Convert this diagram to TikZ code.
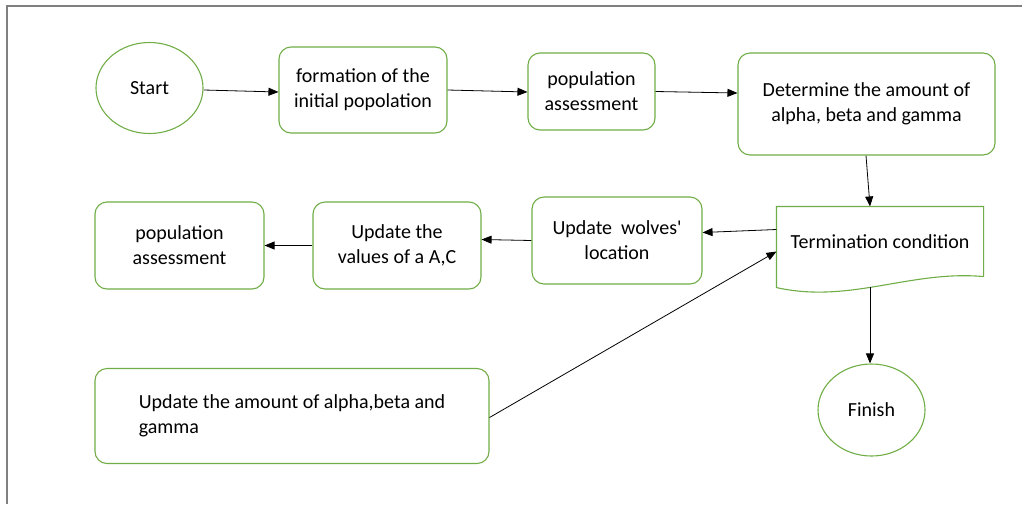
\documentclass[tikz,border=0pt]{standalone}
\usepackage{fontspec}
\setmainfont{Carlito}
\usetikzlibrary{shapes.geometric,arrows.meta}
\definecolor{boxgreen}{RGB}{112,173,71}
\definecolor{framegray}{RGB}{128,128,128}

\begin{document}
\begin{tikzpicture}[x=1pt,y=-1pt,
    box/.style={draw=boxgreen, line width=1.1pt, rounded corners=12pt, inner sep=0pt,
      align=center, font=\fontsize{20}{25}\selectfont},
    oval/.style={draw=boxgreen, line width=1.1pt, ellipse, inner sep=0pt,
      font=\fontsize{20}{25}\selectfont},
    arr/.style={-{Triangle[length=10pt,width=8pt]}, line width=0.8pt}]
        \useasboundingbox (0,0) rectangle (1022,504);
        \draw[framegray, line width=2pt] (7,504) -- (7,6) -- (1022,6);

        % first row
        \node[oval, minimum width=107, minimum height=91] (start) at (149.5,88) {Start};
        \node[box, minimum width=168, minimum height=86] (form) at (363,90) {formation of the\\initial popolation};
        \node[box, minimum width=127, minimum height=77] (pop1) at (591.5,91.5) {population\\assessment};
        \node[box, minimum width=257, minimum height=102] (det) at (866.5,104) {Determine the amount of\\alpha, beta and gamma};

        % second row
        \node[box, rounded corners=0pt, draw=none, minimum width=206, minimum height=69] (term) at (880,241.5) {Termination condition};
        \draw[boxgreen, line width=1.1pt] (term.south east) -- (term.north east) -- (term.north west)
          -- ([yshift=-11pt]term.south west)
          .. controls (850,304) and (910,270) .. coordinate[pos=0.45] (termbot) (term.south east);
        \node[box, minimum width=170, minimum height=87] (wolves) at (617,240.5) {Update\ \ wolves\textquotesingle\\location};
        \node[box, minimum width=168, minimum height=87] (vals) at (397,245.5) {Update the\\values of a A,C};
        \node[box, minimum width=169, minimum height=87] (pop2) at (179.5,245.5) {population\\assessment};

        % third row
        \node[box, align=left, minimum width=394, minimum height=95] (upd) at (292,416)
          {Update the amount of alpha,beta and\\gamma};
        \node[oval, minimum width=107, minimum height=92] (finish) at (871.5,410) {Finish};

        \draw[arr] ([yshift=-2pt]start.east) -- ([yshift=-2pt]form.west);
        \draw[arr] (form.east) -- ([yshift=-0.5pt]pop1.west);
        \draw[arr] (pop1.east) -- ([yshift=11pt]det.west);
        \draw[arr] ([xshift=-0.5pt]det.south) -- ([xshift=-10pt]term.north);
        \draw[arr] ([yshift=12pt]term.west) -- ([yshift=8pt]wolves.east);
        \draw[arr] (wolves.west) -- ([yshift=6pt]vals.east);
        \draw[arr] (vals.west) -- (pop2.east);
        \draw[arr] ([yshift=-1.5pt]upd.east) -- ([yshift=-10pt]term.west);
        \draw[arr] (termbot) -- (termbot |- finish.north);
      \end{tikzpicture}
\end{document}
